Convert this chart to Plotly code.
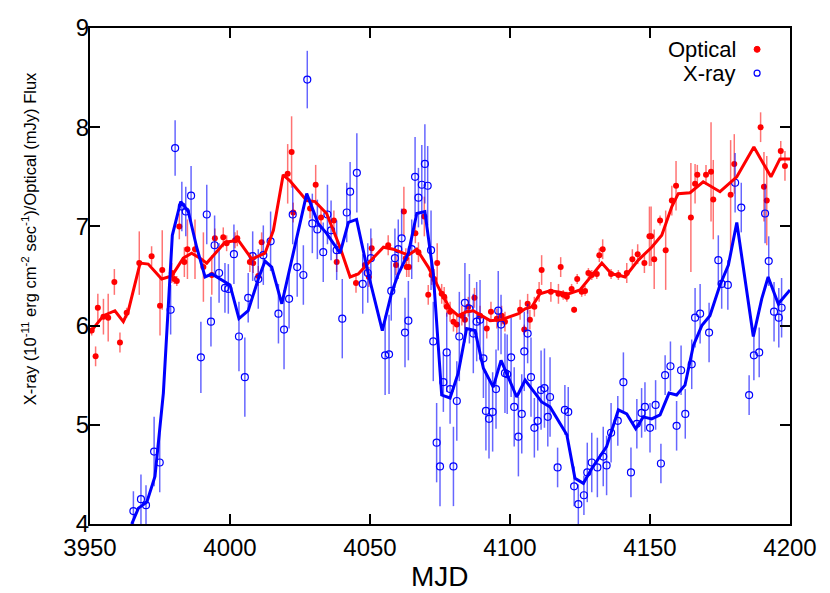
import plotly.graph_objects as go

# ---------------- Optical data (MJD, flux, error) ----------------
opt_mjd = [3950.6, 3952.0, 3952.8, 3954.8, 3956.5, 3958.7, 3960.7, 3963.1, 3967.6, 3972.0,
           3975.0, 3975.8, 3979.2, 3980.1, 3981.0, 3981.9, 3983.7, 3984.8, 3987.5, 3990.5,
           3993.5, 3994.6, 3997.6, 3998.8, 4001.8, 4002.6, 4007.1, 4008.3, 4010.1, 4011.3,
           4020.6, 4022.0, 4022.6, 4028.6, 4030.6, 4032.5, 4037.1, 4038.1, 4045.0, 4048.2,
           4049.6, 4050.6, 4056.5, 4059.3, 4062.1, 4062.8, 4063.1, 4063.9, 4066.2, 4067.3,
           4069.4, 4070.8, 4072.0, 4072.9, 4074.0, 4075.6, 4076.5, 4077.4, 4078.6, 4079.8,
           4081.0, 4082.8, 4083.9, 4085.1, 4087.3, 4089.3, 4091.7, 4093.2, 4095.3, 4097.0,
           4098.2, 4103.6, 4105.1, 4106.3, 4107.1, 4108.7, 4110.4, 4111.3, 4114.6, 4117.3,
           4118.1, 4119.0, 4120.3, 4122.0, 4122.9, 4124.0, 4125.6, 4126.8, 4128.0, 4129.2,
           4131.0, 4131.9, 4133.1, 4136.1, 4138.7, 4141.7, 4143.7, 4145.6, 4148.0, 4149.8,
           4150.4, 4151.5, 4153.6, 4155.6, 4157.8, 4159.3, 4164.6, 4166.1, 4166.9, 4170.0,
           4171.8, 4172.6, 4178.8, 4180.1, 4189.5, 4190.7, 4191.7, 4196.7, 4198.2]
opt_flux = [5.95, 5.69, 6.18, 6.09, 6.08, 6.44, 5.83, 6.13, 6.63, 6.70,
            6.20, 6.56, 6.53, 6.47, 6.45, 7.00, 6.64, 6.77, 6.77, 6.59,
            6.51, 6.88, 6.89, 6.83, 6.86, 6.88, 6.64, 6.63, 6.50, 6.84,
            7.53, 7.75, 7.14, 7.18, 7.42, 7.09, 7.06, 6.64, 6.43, 6.61,
            6.49, 6.78, 6.81, 6.61, 7.15, 6.68, 6.59, 6.59, 6.93, 6.74,
            7.10, 6.31, 6.51, 6.47, 6.63, 6.32, 6.29, 6.19, 6.14, 6.04,
            6.01, 6.10, 6.06, 6.19, 6.28, 6.10, 5.97, 6.14, 6.07, 6.10,
            6.04, 6.16, 5.96, 6.22, 6.06, 6.19, 6.34, 6.56, 6.34, 6.32,
            6.59, 6.31, 6.29, 6.37, 6.16, 6.47, 6.34, 6.35, 6.53, 6.51,
            6.52, 6.71, 6.77, 6.52, 6.51, 6.53, 6.67, 6.72, 6.63, 6.90,
            6.90, 6.67, 7.06, 6.76, 7.26, 7.41, 7.09, 7.43, 7.52, 7.52,
            7.55, 7.27, 7.32, 7.63, 8.00, 7.40, 7.26, 7.76, 7.61]
opt_err = [0.05, 0.10, 0.14, 0.18, 0.24, 0.13, 0.10, 0.05, 0.32, 0.10,
           0.30, 0.40, 0.10, 0.05, 0.05, 0.13, 0.15, 0.30, 0.30, 0.35,
           0.20, 0.10, 0.10, 0.08, 0.08, 0.08, 0.10, 0.10, 0.10, 0.10,
           0.30, 0.36, 0.10, 0.10, 0.20, 0.10, 0.10, 0.10, 0.10, 0.10,
           0.10, 0.10, 0.10, 0.10, 0.25, 0.10, 0.10, 0.10, 0.10, 0.10,
           0.20, 0.10, 0.10, 0.10, 0.20, 0.10, 0.10, 0.10, 0.10, 0.10,
           0.10, 0.10, 0.10, 0.10, 0.10, 0.10, 0.10, 0.10, 0.10, 0.10,
           0.10, 0.10, 0.05, 0.10, 0.10, 0.10, 0.10, 0.15, 0.10, 0.10,
           0.10, 0.05, 0.05, 0.05, 0.03, 0.05, 0.05, 0.05, 0.05, 0.05,
           0.05, 0.07, 0.10, 0.05, 0.05, 0.10, 0.10, 0.10, 0.10, 0.30,
           0.30, 0.30, 0.05, 0.40, 0.15, 0.25, 0.55, 0.20, 0.10, 0.10,
           0.50, 0.40, 0.55, 0.30, 0.15, 0.35, 0.45, 0.10, 0.15]

# Optical smoothed curve
opt_smooth_mjd = [3950.0, 3954.8, 3958.9, 3961.9, 3963.7, 3967.9, 3970.8, 3975.6, 3979.2, 3983.3,
                  3986.3, 3989.3, 3991.7, 3998.2, 4003.0, 4007.8, 4012.5, 4015.5, 4019.0, 4021.4,
                  4027.4, 4030.4, 4034.5, 4039.3, 4042.9, 4045.8, 4049.4, 4054.8, 4058.3, 4063.7,
                  4066.7, 4070.8, 4075.6, 4078.6, 4081.5, 4084.5, 4086.9, 4089.9, 4092.9, 4097.0,
                  4103.0, 4105.4, 4107.8, 4110.7, 4114.3, 4117.3, 4120.8, 4125.0, 4128.0, 4132.8,
                  4136.3, 4138.7, 4141.1, 4145.8, 4150.6, 4154.2, 4157.8, 4160.1, 4164.3, 4169.0,
                  4175.0, 4181.0, 4187.1, 4193.2, 4196.4, 4200.0]
opt_smooth_flux = [5.93, 6.10, 6.15, 6.04, 6.15, 6.63, 6.62, 6.47, 6.50, 6.68,
                   6.73, 6.68, 6.63, 6.84, 6.86, 6.67, 6.73, 6.96, 7.52, 7.46,
                   7.26, 7.25, 7.13, 6.79, 6.49, 6.52, 6.63, 6.79, 6.77, 6.71,
                   6.77, 6.59, 6.32, 6.17, 6.10, 6.14, 6.15, 6.10, 6.05, 6.06,
                   6.12, 6.17, 6.19, 6.32, 6.35, 6.34, 6.32, 6.36, 6.46, 6.63,
                   6.52, 6.51, 6.49, 6.66, 6.79, 6.91, 7.20, 7.33, 7.34, 7.45,
                   7.35, 7.50, 7.80, 7.50, 7.68, 7.68]

# ---------------- X-ray data (MJD, flux, error) ----------------
xr_mjd = [3965.5, 3968.2, 3970.0, 3972.9, 3974.9, 3978.8, 3980.4, 3982.8, 3984.2, 3986.1,
          3989.6, 3991.7, 3993.2, 3994.5, 3996.1, 3998.2, 3999.4, 4001.4, 4003.2, 4005.3,
          4006.5, 4008.1, 4010.1, 4011.9, 4014.5, 4017.3, 4019.3, 4021.1, 4022.4, 4024.0,
          4026.2, 4027.6, 4029.4, 4031.2, 4033.3, 4034.8, 4036.1, 4038.1, 4040.1, 4041.7,
          4042.9, 4045.3, 4047.4, 4049.2, 4050.3, 4055.4, 4056.8, 4057.6, 4058.9, 4060.1,
          4061.3, 4062.5, 4063.7, 4064.9, 4066.1, 4067.3, 4068.5, 4069.6, 4070.6, 4071.8,
          4072.6, 4073.8, 4075.0, 4076.2, 4077.4, 4078.6, 4079.8, 4081.0, 4081.9, 4083.9,
          4085.5, 4086.9, 4088.1, 4089.3, 4090.5, 4091.4, 4092.5, 4093.8, 4095.0, 4095.8,
          4096.8, 4098.2, 4099.0, 4100.4, 4101.5, 4103.0, 4104.2, 4105.1, 4106.3, 4107.5,
          4108.7, 4109.9, 4111.1, 4112.3, 4113.5, 4114.3, 4117.0, 4119.6, 4120.8, 4122.9,
          4124.4, 4126.4, 4127.6, 4129.2, 4131.2, 4133.3, 4134.5, 4136.1, 4138.5, 4140.5,
          4143.2, 4145.3, 4147.0, 4148.2, 4150.0, 4152.0, 4153.9, 4155.4, 4157.3, 4159.5,
          4161.1, 4162.6, 4164.9, 4166.1, 4167.9, 4171.1, 4174.4, 4175.6, 4177.8, 4180.4,
          4182.6, 4185.4, 4187.1, 4189.0, 4191.1, 4192.4, 4194.3, 4196.0, 4197.0]
xr_flux = [4.13, 4.25, 4.19, 4.73, 4.62, 6.16, 7.79, 7.20, 7.15, 7.31,
           5.68, 7.12, 6.04, 6.81, 6.53, 6.38, 6.37, 6.72, 5.89, 5.48,
           6.28, 6.70, 6.47, 6.71, 6.85, 6.12, 5.96, 6.27, 7.12, 6.59,
           6.51, 8.48, 7.03, 6.97, 6.74, 7.12, 6.96, 6.76, 6.07, 7.14,
           7.35, 7.54, 6.42, 6.53, 6.68, 5.70, 5.71, 6.35, 6.68, 6.77,
           6.88, 5.93, 6.05, 6.77, 7.50, 7.29, 7.42, 7.63, 7.41, 6.76,
           5.84, 4.82, 4.58, 5.43, 5.73, 5.36, 4.58, 5.24, 5.89, 6.23,
           6.17, 5.92, 6.04, 6.06, 5.67, 5.14, 5.06, 5.13, 5.36, 6.15,
           6.01, 5.52, 5.51, 5.68, 5.18, 4.88, 5.11, 5.74, 5.92, 5.48,
           4.97, 5.04, 5.35, 5.37, 5.08, 5.28, 4.57, 5.15, 5.13, 4.38,
           4.20, 4.29, 4.52, 4.62, 4.57, 4.68, 4.59, 4.92, 5.04, 5.43,
           4.52, 5.01, 5.12, 5.18, 4.97, 5.20, 4.61, 5.50, 5.59, 4.99,
           5.55, 5.11, 5.61, 6.08, 6.12, 5.93, 6.66, 6.42, 6.41, 7.44,
           7.19, 5.30, 5.70, 5.73, 7.13, 6.65, 6.14, 6.08, 6.18]
xr_err = [0.20, 0.25, 0.20, 0.35, 0.30, 0.25, 0.28, 0.25, 0.25, 0.30,
          0.36, 0.30, 0.25, 0.30, 0.30, 0.25, 0.25, 0.30, 0.35, 0.40,
          0.25, 0.25, 0.30, 0.30, 0.30, 0.30, 0.40, 0.30, 0.30, 0.30,
          0.30, 0.29, 0.30, 0.30, 0.30, 0.30, 0.30, 0.30, 0.40, 0.30,
          0.30, 0.40, 0.30, 0.30, 0.30, 0.40, 0.40, 0.30, 0.30, 0.30,
          0.30, 0.35, 0.40, 0.30, 0.40, 0.30, 0.40, 0.40, 0.40, 0.40,
          0.40, 0.40, 0.40, 0.30, 0.40, 0.35, 0.40, 0.40, 0.45, 0.40,
          0.35, 0.40, 0.40, 0.40, 0.40, 0.40, 0.40, 0.40, 0.40, 0.40,
          0.30, 0.40, 0.40, 0.40, 0.40, 0.40, 0.40, 0.40, 0.30, 0.40,
          0.30, 0.30, 0.40, 0.40, 0.30, 0.40, 0.20, 0.25, 0.25, 0.20,
          0.20, 0.20, 0.30, 0.30, 0.30, 0.30, 0.30, 0.30, 0.25, 0.30,
          0.25, 0.25, 0.25, 0.25, 0.25, 0.25, 0.20, 0.20, 0.25, 0.25,
          0.25, 0.25, 0.25, 0.30, 0.30, 0.30, 0.25, 0.25, 0.25, 0.30,
          0.25, 0.20, 0.25, 0.25, 0.30, 0.25, 0.30, 0.30, 0.30]

# X-ray smoothed curve
xr_smooth_mjd = [3964.9, 3967.3, 3970.3, 3973.2, 3976.2, 3978.9, 3979.4, 3982.4, 3985.1, 3988.1,
                 3991.1, 3993.5, 4000.0, 4003.2, 4006.5, 4010.1, 4012.5, 4014.9, 4018.5, 4027.4,
                 4031.5, 4034.5, 4039.3, 4042.3, 4045.2, 4049.4, 4054.4, 4057.8, 4060.1, 4063.7,
                 4066.7, 4069.6, 4072.6, 4075.6, 4078.6, 4081.5, 4084.5, 4087.5, 4090.5, 4094.0,
                 4096.8, 4102.4, 4105.4, 4111.3, 4114.3, 4120.3, 4123.2, 4126.2, 4129.2, 4134.5,
                 4138.7, 4141.7, 4144.9, 4147.6, 4150.6, 4153.6, 4156.8, 4159.5, 4162.5, 4165.5,
                 4168.5, 4171.4, 4175.0, 4178.0, 4181.0, 4186.9, 4189.9, 4192.2, 4195.8, 4200.0]
xr_smooth_flux = [4.00, 4.16, 4.22, 4.48, 5.32, 6.66, 6.91, 7.25, 7.15, 6.79,
                  6.49, 6.52, 6.41, 6.07, 6.15, 6.47, 6.65, 6.59, 6.22, 7.33,
                  7.03, 6.93, 6.73, 7.04, 7.07, 6.52, 5.95, 6.34, 6.52, 6.73,
                  7.13, 7.15, 6.52, 5.30, 5.27, 5.52, 5.97, 5.95, 5.57, 5.38,
                  5.65, 5.28, 5.45, 5.23, 5.18, 4.90, 4.46, 4.41, 4.56, 4.78,
                  5.15, 5.11, 4.96, 5.08, 5.06, 5.10, 5.32, 5.30, 5.40, 5.80,
                  6.00, 6.10, 6.41, 6.61, 7.04, 5.89, 6.27, 6.49, 6.22, 6.36]

x_ticks = [3950, 4000, 4050, 4100, 4150, 4200]
y_ticks = [4, 5, 6, 7, 8, 9]

RED = "#ff0000"
BLUE = "#0000ff"
FONT = "Liberation Sans, Arial, sans-serif"

fig = go.Figure()

fig.add_trace(go.Scatter(
    x=opt_mjd, y=opt_flux, mode="markers", name="Optical",
    marker=dict(symbol="circle", size=6, color=RED),
    error_y=dict(type="data", array=opt_err, visible=True, color="rgba(255,0,0,0.55)",
                 thickness=1.5, width=0),
    showlegend=False))

fig.add_trace(go.Scatter(
    x=xr_mjd, y=xr_flux, mode="markers", name="X-ray",
    marker=dict(symbol="circle-open", size=7, color=BLUE, line=dict(width=1.2, color=BLUE)),
    error_y=dict(type="data", array=xr_err, visible=True, color="rgba(0,0,255,0.6)",
                 thickness=1.5, width=0),
    showlegend=False))

fig.add_trace(go.Scatter(
    x=opt_smooth_mjd, y=opt_smooth_flux, mode="lines",
    line=dict(color=RED, width=3), showlegend=False, hoverinfo="skip"))

fig.add_trace(go.Scatter(
    x=xr_smooth_mjd, y=xr_smooth_flux, mode="lines",
    line=dict(color=BLUE, width=3), showlegend=False, hoverinfo="skip"))

axis_common = dict(
    showline=True, linecolor="black", linewidth=2, mirror="allticks",
    ticks="inside", ticklen=10, tickwidth=1.5, tickcolor="black",
    showgrid=False, zeroline=False, automargin=False,
    tickfont=dict(family=FONT, size=24, color="black"),
)

fig.update_xaxes(range=[3950, 4200], tickvals=x_ticks, ticktext=[str(v) for v in x_ticks],
                 ticklabelstandoff=1, **axis_common)
fig.update_yaxes(range=[4, 9], tickvals=y_ticks, ticktext=[str(v) for v in y_ticks],
                 ticklabelstandoff=-6, **axis_common)

# x-axis title
fig.add_annotation(text="MJD", xref="paper", yref="paper", x=0.5, y=-0.106,
                   xanchor="center", yanchor="middle", showarrow=False,
                   font=dict(family=FONT, size=28, color="black"))

# y-axis title as annotation (positioned like the original)
fig.add_annotation(
    text="X-ray (10<sup>-11</sup> erg cm<sup>-2</sup> sec<sup>-1</sup>)/Optical (mJy) Flux",
    xref="paper", yref="paper", x=-0.088, y=0.575, xanchor="center", yanchor="middle",
    textangle=-90, showarrow=False, font=dict(family=FONT, size=16.5, color="black"))

# legend (text then symbol, like the original)
fig.add_annotation(text="Optical", xref="paper", yref="paper", x=0.926, y=0.957,
                   xanchor="right", yanchor="middle", showarrow=False,
                   font=dict(family=FONT, size=22, color="black"))
fig.add_annotation(text="X-ray", xref="paper", yref="paper", x=0.926, y=0.909,
                   xanchor="right", yanchor="middle", showarrow=False,
                   font=dict(family=FONT, size=22, color="black"))
fig.add_shape(type="circle", xref="paper", yref="paper", xsizemode="pixel", ysizemode="pixel",
              xanchor=0.953, yanchor=0.957, x0=-3, x1=3, y0=-3, y1=3,
              fillcolor=RED, line=dict(color=RED, width=1))
fig.add_shape(type="circle", xref="paper", yref="paper", xsizemode="pixel", ysizemode="pixel",
              xanchor=0.953, yanchor=0.909, x0=-3, x1=3, y0=-3, y1=3,
              fillcolor="rgba(0,0,0,0)", line=dict(color=BLUE, width=1.2))

# figure is placed 8px from the page's top-left corner, so size it to end at the window edge
fig.update_layout(
    width=822, height=585,
    margin=dict(l=82, r=40, t=20, b=69),
    paper_bgcolor="white", plot_bgcolor="white",
    font=dict(family=FONT, color="black"),
)

fig.write_html("out.html")
